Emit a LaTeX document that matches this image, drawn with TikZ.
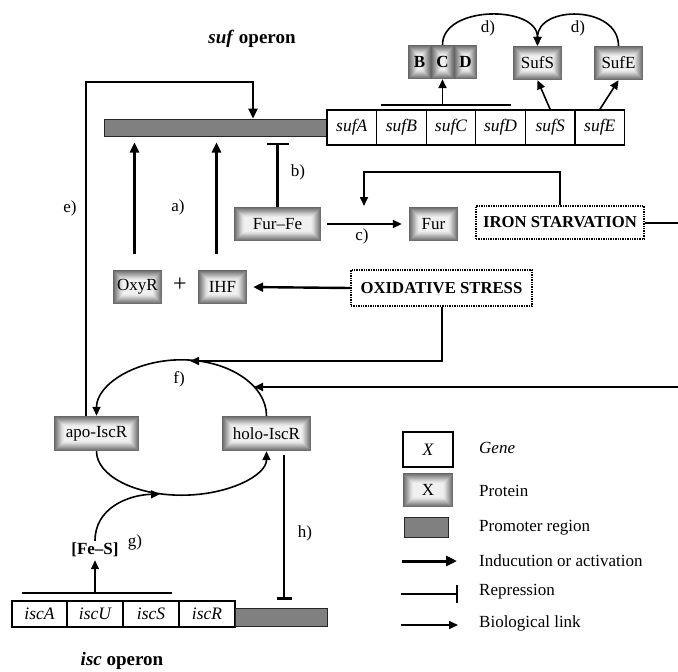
\documentclass[tikz,border=0pt]{standalone}
\usepackage{fontspec}
\setmainfont{Liberation Serif}
\usetikzlibrary{arrows.meta,calc}
\tikzset{
  prot/.style={fill=black!60, inner sep=0pt, minimum height=34pt,
    path picture={
      \foreach \k/\c in {1/57,2/54,3/51,4/48,5/45,6/42,7/39,8/36,9/33,10/30,11/27,12/24,13/21,14/18,15/15,16/13,17/11,18/9,19/7,20/6}{
        \fill[black!\c] ([shift={(\k*0.5pt,\k*0.5pt)}]path picture bounding box.south west)
          rectangle ([shift={(-\k*0.5pt,-\k*0.5pt)}]path picture bounding box.north east);
      }
    }},
  gene/.style={draw, fill=white, line width=1.1pt, inner sep=0pt, minimum height=35pt, font=\fontsize{17.5}{20}\selectfont\itshape},
  prom/.style={draw=black!85, fill=black!50, line width=1pt, inner sep=0pt},
  stressbox/.style={draw, densely dotted, line width=1.4pt, inner sep=0pt, font=\fontsize{16.7}{20}\selectfont\bfseries},
  lab/.style={inner sep=0pt},
  induce/.style={line width=2.4pt, -{Triangle[length=10pt,width=9pt]}},
  bio/.style={line width=1.6pt, -{Triangle[length=9pt,width=8pt]}},
  repress/.style={line width=2.2pt, -{Bar[width=22pt]}},
  plainline/.style={line width=2pt},
  titletext/.style={font=\fontsize{19}{22}\selectfont\bfseries, anchor=base, inner sep=0pt}
}
\begin{document}
\begin{tikzpicture}[x=1pt,y=1pt,font=\fontsize{17}{20}\selectfont]
\useasboundingbox (0,0) rectangle (678,-672);

% titles
\node[titletext] (suftitle) at (252,-43) {\textit{suf} operon};
\node[titletext] (isctitle) at (122,-665) {\textit{isc} operon};

% suf operon
\node[prom, minimum width=223pt, minimum height=17pt] (sufbar) at (215.5,-127.5) {};
\node[gene, minimum width=49.6pt] (gA) at (351.8,-127.5) {sufA};
\node[gene, minimum width=49.6pt] (gB) at (401.4,-127.5) {sufB};
\node[gene, minimum width=49.6pt] (gC) at (451.0,-127.5) {sufC};
\node[gene, minimum width=49.6pt] (gD) at (500.6,-127.5) {sufD};
\node[gene, minimum width=49.6pt] (gS) at (550.2,-127.5) {sufS};
\node[gene, minimum width=49.6pt] (gE) at (599.8,-127.5) {sufE};
\coordinate (sl1) at (381,-105);
\coordinate (sl2) at (511,-105);
\draw[line width=1.6pt] (sl1) -- (sl2);

% suf proteins
\node[prot, minimum width=23pt, font=\fontsize{17}{20}\selectfont\bfseries] (bnode) at (419.5,-62) {B};
\node[prot, minimum width=23pt, font=\fontsize{17}{20}\selectfont\bfseries] (cnode) at (442.5,-62) {C};
\node[prot, minimum width=23pt, font=\fontsize{17}{20}\selectfont\bfseries] (dnode) at (465.5,-62) {D};
\node[prot, minimum width=49pt] (pS) at (537.5,-63) {SufS};
\node[prot, minimum width=49pt] (pE) at (618.5,-63) {SufE};

\draw[bio] (cnode.south |- sl1) -- (cnode.south);
\draw[bio] (gS.north) -- (pS.south);
\draw[bio] (gE.north) -- (pE.south);
\draw[bio] (cnode.north) .. controls (442.5,-5) and (537.5,-5) .. (pS.north);
\draw[bio] (pE.north) .. controls (618.5,-5) and (537.5,-5) .. (pS.north);
\node[lab] (ld1) at (488,-28) {d)};
\node[lab] (ld2) at (578,-28) {d)};

% regulators
\node[prot, minimum width=87pt] (furfe) at (277.5,-224) {Fur--Fe};
\node[prot, minimum width=49pt] (fur) at (433.5,-224) {Fur};
\node[stressbox, minimum width=168pt, minimum height=33pt] (iron) at (560,-222.5) {IRON STARVATION};
\node[stressbox, minimum width=181pt, minimum height=36pt] (oxs) at (441.5,-288) {OXIDATIVE STRESS};
\node[prot, minimum width=49pt] (oxyr) at (137.5,-287) {OxyR};
\node[lab, font=\fontsize{24}{26}\selectfont] (plus) at (180,-285) {+};
\node[prot, minimum width=49pt] (ihf) at (222.5,-287) {IHF};

% a)
\coordinate (a1s) at ([xshift=-3pt,yshift=16pt]oxyr.north);
\coordinate (a2s) at ([xshift=-6pt,yshift=16pt]ihf.north);
\draw[induce, shorten >=6pt] (a1s) -- (a1s |- sufbar.south);
\draw[induce, shorten >=6pt] (a2s) -- (a2s |- sufbar.south);
\node[lab] (la) at (178,-207) {a)};
% b)
\draw[repress, shorten >=6pt] (furfe.north) -- (furfe.north |- sufbar.south);
\node[lab] (lb) at (298,-172) {b)};
% c)
\draw[bio, shorten <=6pt, shorten >=7pt] (furfe.east) -- (fur.west);
\node[lab] (lc) at (362,-236) {c)};
% iron starvation
\coordinate (ironknee) at (364,-172);
\coordinate (ironend) at (364,-206);
\draw[bio] (iron.north) |- (ironknee) -- (ironend);
\coordinate (edgeA) at (678,-222.5);
\draw[plainline] (iron.east) -- (edgeA);
% oxidative stress
\draw[induce, shorten >=6pt] (oxs.west) -- (ihf.east);
\coordinate (ftop) at (190,-361);
\draw[bio, line width=2pt] (oxs.south) |- (ftop);
\coordinate (edgeB) at (678,-387);
\coordinate (fright) at (254,-387);
\draw[bio, line width=2pt] (edgeB) -- (fright);

% IscR cycle
\node[prot, minimum width=85pt, minimum height=35pt] (apo) at (96.5,-433.5) {apo-IscR};
\node[prot, minimum width=89pt, minimum height=35pt] (holo) at (266.5,-433.5) {holo-IscR};
\draw[bio] (holo.north) arc[start angle=0, end angle=180, x radius=85, y radius=56];
\draw[bio] (apo.south) arc[start angle=180, end angle=360, x radius=85, y radius=44];
\node[lab] (lf) at (179,-379) {f)};

% e)
\coordinate (eknee) at (253,-82);
\coordinate (es) at ([xshift=-10.5pt]apo.north);
\draw[induce] (es) |- (eknee) -- (eknee |- sufbar.north);
\node[lab] (le) at (70,-208) {e)};

% isc operon
\node[gene, minimum width=55pt, minimum height=26pt] (iA) at (39.5,-614) {iscA};
\node[gene, minimum width=56pt, minimum height=26pt] (iU) at (95,-614) {iscU};
\node[gene, minimum width=56pt, minimum height=26pt] (iS) at (151,-614) {iscS};
\node[gene, minimum width=56pt, minimum height=26pt] (iR) at (207,-614) {iscR};
\node[prom, minimum width=92pt, minimum height=18pt] (iscbar) at (281,-617) {};
\coordinate (il1) at (22,-593);
\coordinate (il2) at (172,-593);
\draw[line width=1.6pt] (il1) -- (il2);

% [Fe-S] and g)
\node[lab, font=\fontsize{17}{20}\selectfont\bfseries, inner sep=2pt] (fes) at (95,-550) {[Fe--S]};
\draw[bio, shorten >=1pt] (fes.south |- il1) -- (fes.south);
\coordinate (gtip) at (160,-494);
\draw[bio] (fes.north) .. controls (95,-508) and (128,-495) .. (gtip);
\node[lab] (lg) at (135,-542) {g)};

% h)
\coordinate (hs) at ([xshift=17.5pt,yshift=-4pt]holo.south);
\draw[line width=2.2pt, -{Bar[width=15pt]}, shorten >=8pt] (hs) -- (hs |- iscbar.north);
\node[lab] (lh) at (305,-533) {h)};

% legend
\node[gene, minimum width=50pt, minimum height=35pt] (lgene) at (428,-449.5) {X};
\node[prot, minimum width=50pt, minimum height=34pt] (lprot) at (428,-490) {X};
\node[prom, minimum width=44pt, minimum height=20pt] (lprom) at (426,-527) {};
\coordinate (la1) at (402,-561);
\coordinate (la2) at (457,-561);
\draw[line width=3pt, -{Triangle[length=11pt,width=10pt]}] (la1) -- (la2);
\coordinate (lr1) at (401,-594);
\coordinate (lr2) at (458,-594);
\draw[line width=2pt, -{Bar[width=18pt]}] (lr1) -- (lr2);
\coordinate (lb1) at (401,-625);
\coordinate (lb2) at (458,-625);
\draw[bio] (lb1) -- (lb2);
\node[lab, anchor=west, font=\fontsize{17}{20}\selectfont\itshape] (tgene) at (479,-448) {Gene};
\node[lab, anchor=west] (tprot) at (479,-491) {Protein};
\node[lab, anchor=west] (tprom) at (479,-528) {Promoter region};
\node[lab, anchor=west] (tind) at (479,-561) {Inducution or activation};
\node[lab, anchor=west] (trep) at (479,-592) {Repression};
\node[lab, anchor=west] (tbio) at (479,-623) {Biological link};
\end{tikzpicture}
\end{document}
